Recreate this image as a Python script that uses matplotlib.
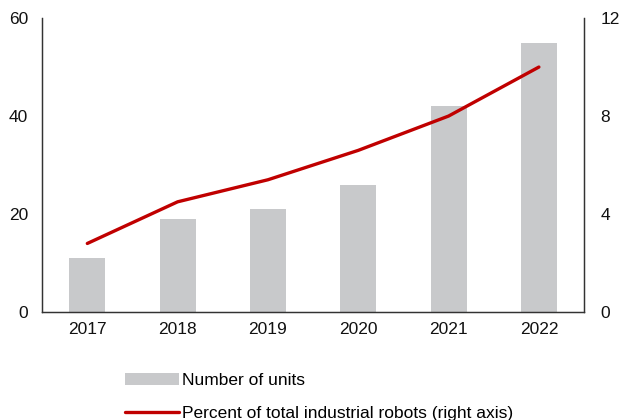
import matplotlib.pyplot as plt
import numpy as np

plt.rcParams['font.family'] = ['Liberation Sans', 'DejaVu Sans']

years = ['2017', '2018', '2019', '2020', '2021', '2022']
units = [11, 19, 21, 26, 42, 55]
percent = [2.8, 4.5, 5.4, 6.6, 8.0, 10.0]

fig = plt.figure(figsize=(6.2, 4.2), dpi=100)
ax = fig.add_axes([0.068, 0.257, 0.874, 0.700])
ax2 = ax.twinx()

x = np.arange(len(years))
bars = ax.bar(x, units, width=0.4, color='#c8c9cb', label='Number of units')
line, = ax2.plot(x, percent, color='#c00000', lw=2.4, solid_capstyle='round',
                 label='Percent of total industrial robots (right axis)')

ax.set_xlim(-0.5, len(years) - 0.5)
ax.set_ylim(0, 60)
ax.set_yticks([0, 20, 40, 60])
ax2.set_ylim(0, 12)
ax2.set_yticks([0, 4, 8, 12])
ax.set_xticks(x)
ax.set_xticklabels(years)

for a in (ax, ax2):
    a.spines['top'].set_visible(False)
    a.tick_params(length=0, labelsize=12.5, colors='#111111')
    for s in ('left', 'right', 'bottom'):
        a.spines[s].set_color('#333333')
        a.spines[s].set_linewidth(0.9)
ax.tick_params(axis='y', pad=10)
ax2.tick_params(axis='y', pad=12)
ax.tick_params(axis='x', pad=7)

fig.legend([bars, line], [bars.get_label(), line.get_label()],
           loc='upper left', bbox_to_anchor=(0.19, 0.128), frameon=False,
           fontsize=12.5, handlelength=3.1, handletextpad=0.2, labelspacing=1.0,
           borderaxespad=0)

fig.savefig('out.png', dpi=100)
